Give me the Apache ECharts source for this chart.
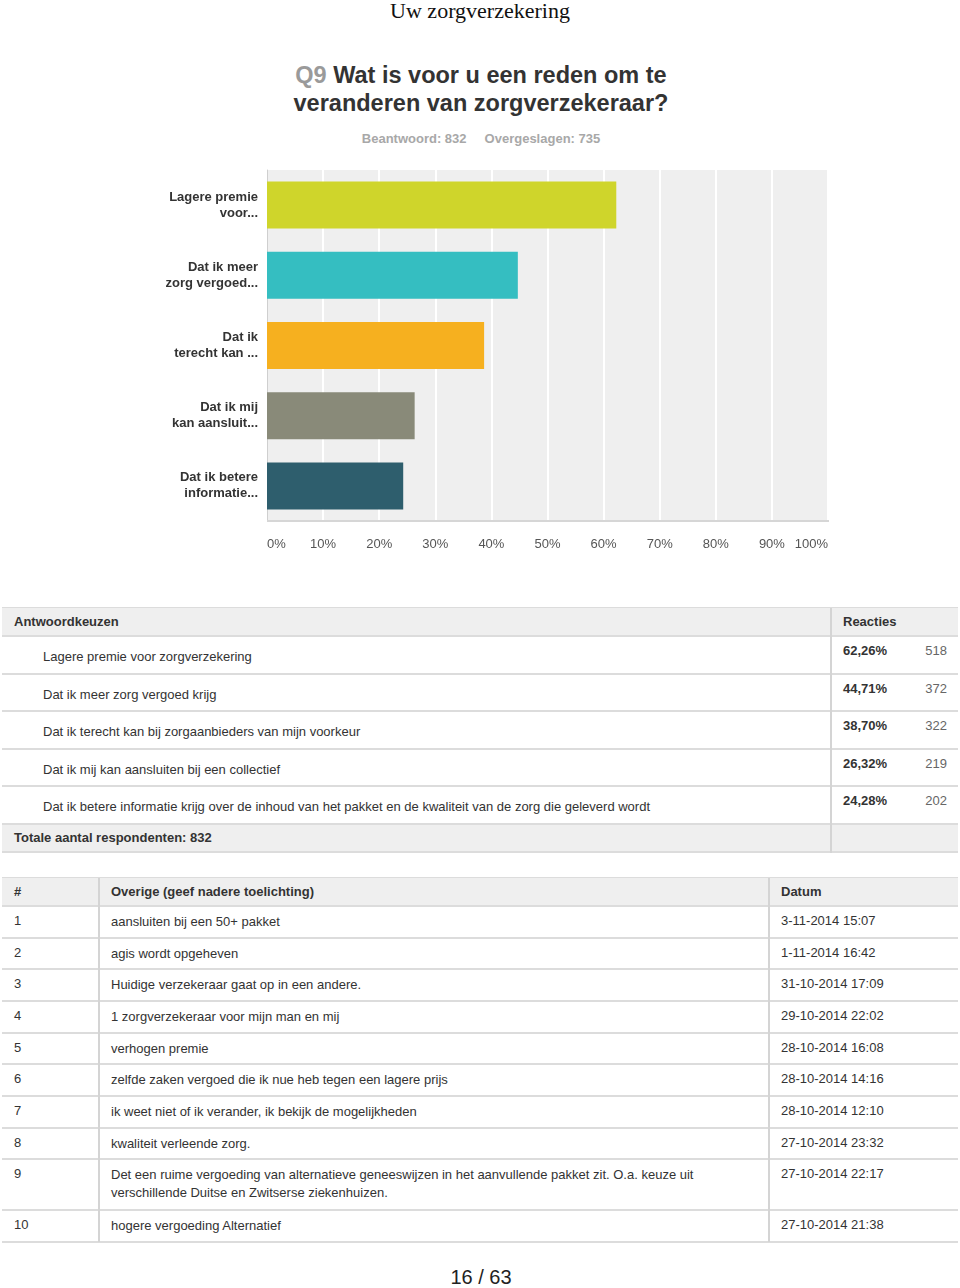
<!DOCTYPE html>
<html><head><meta charset="utf-8">
<script src="https://cdn.jsdelivr.net/npm/echarts@6/dist/echarts.min.js"></script>
<style>
html,body{margin:0;padding:0;background:#fff;}
body{width:960px;height:1288px;position:relative;overflow:hidden;font-family:"Liberation Sans",Arial,Helvetica,sans-serif;color:#333;}
.abs{position:absolute;}
.t{position:absolute;white-space:nowrap;font-size:13px;line-height:16px;}
</style></head>
<body>
<div class="abs" style="left:0;width:960px;top:-2px;text-align:center;font-family:'Liberation Serif','Times New Roman',serif;font-size:22px;line-height:26px;color:#111;">Uw zorgverzekering</div>
<div class="abs" style="left:0;width:962px;top:61px;text-align:center;font-size:23.5px;line-height:28px;font-weight:bold;color:#333;"><span style="color:#9a9a9a">Q9</span> Wat is voor u een reden om te<br>veranderen van zorgverzekeraar?</div>
<div class="abs" style="left:0;width:962px;top:131px;text-align:center;font-size:13px;line-height:16px;font-weight:bold;color:#a8a8a8;">Beantwoord: 832&nbsp;&nbsp;&nbsp;&nbsp;&nbsp;Overgeslagen: 735</div>
<div id="chart" class="abs" style="left:0;top:160px;width:960px;height:410px;"></div>
<div id="tables"></div>
<div class="abs" style="left:0;width:962px;top:1265px;text-align:center;font-size:20px;line-height:24px;color:#222;font-family:'Liberation Sans Narrow','Liberation Sans',Arial,sans-serif;">16 / 63</div>
<script>
// ---- data ----
var categories = ["Lagere premie\nvoor...", "Dat ik meer\nzorg vergoed...", "Dat ik\nterecht kan ...", "Dat ik mij\nkan aansluit...", "Dat ik betere\ninformatie..."];
var percentages = [62.26, 44.71, 38.70, 26.32, 24.28];
var barColors = ["#cfd52b", "#35bec1", "#f6b01f", "#898a79", "#2e5e6d"];
var tickLabels = ["0%","10%","20%","30%","40%","50%","60%","70%","80%","90%","100%"];
var answerChoices = ["Lagere premie voor zorgverzekering", "Dat ik meer zorg vergoed krijg", "Dat ik terecht kan bij zorgaanbieders van mijn voorkeur", "Dat ik mij kan aansluiten bij een collectief", "Dat ik betere informatie krijg over de inhoud van het pakket en de kwaliteit van de zorg die geleverd wordt"];
var percentText = ["62,26%", "44,71%", "38,70%", "26,32%", "24,28%"];
var counts = [518, 372, 322, 219, 202];
var totalRespondents = 832;
var otherNums = [1,2,3,4,5,6,7,8,9,10];
var otherTexts = ["aansluiten bij een 50+ pakket", "agis wordt opgeheven", "Huidige verzekeraar gaat op in een andere.", "1 zorgverzekeraar voor mijn man en mij", "verhogen premie", "zelfde zaken vergoed die ik nue heb tegen een lagere prijs", "ik weet niet of ik verander, ik bekijk de mogelijkheden", "kwaliteit verleende zorg.", "Det een ruime vergoeding van alternatieve geneeswijzen in het aanvullende pakket zit. O.a. keuze uit\nverschillende Duitse en Zwitserse ziekenhuizen.", "hogere vergoeding Alternatief"];
var otherDates = ["3-11-2014 15:07", "1-11-2014 16:42", "31-10-2014 17:09", "29-10-2014 22:02", "28-10-2014 16:08", "28-10-2014 14:16", "28-10-2014 12:10", "27-10-2014 23:32", "27-10-2014 22:17", "27-10-2014 21:38"];

// ---- chart ----
var chart = echarts.init(document.getElementById('chart'), null, {renderer:'canvas'});
chart.setOption({
  animation:false,
  grid:{left:267, top:10, width:561, height:351, show:true, backgroundColor:'#efefef', borderWidth:0, containLabel:false},
  xAxis:{type:'value', min:0, max:100, interval:10,
    axisLine:{show:false}, axisTick:{show:false},
    splitLine:{show:true, lineStyle:{color:'#ffffff', width:2}},
    axisLabel:{margin:17, color:'#555', fontSize:13, fontFamily:'Liberation Sans, Arial, sans-serif',
      alignMinLabel:'left', alignMaxLabel:'right',
      formatter:function(v){return tickLabels[Math.round(v/10)];}}},
  yAxis:{type:'category', data:categories, inverse:true,
    axisLine:{show:true, lineStyle:{color:'#cfcfcf', width:1}}, axisTick:{show:false},
    axisLabel:{margin:9, color:'#333', fontSize:13, fontWeight:'bold', lineHeight:16, padding:[3,0,0,0], align:'right', fontFamily:'Liberation Sans, Arial, sans-serif'}},
  series:[{type:'bar', barWidth:47, data:percentages.map(function(v,i){return {value:v, itemStyle:{color:barColors[i]}};})}],
  graphic:[{type:'rect', shape:{x:267, y:360, width:562, height:2}, style:{fill:'#d6d6d6'}, z:10}]
});

// ---- tables ----
var html = [];
function box(x,y,w,h,style){html.push('<div class="abs" style="left:'+x+'px;top:'+y+'px;width:'+w+'px;height:'+h+'px;'+(style||'')+'"></div>');}
function txt(x,y,s,style){html.push('<div class="t" style="left:'+x+'px;top:'+(y-8)+'px;'+(style||'')+'">'+s+'</div>');}
function rtxt(xr,y,s,style){html.push('<div class="t" style="left:'+(xr-100)+'px;width:100px;text-align:right;top:'+(y-8)+'px;'+(style||'')+'">'+s+'</div>');}
var L=2, R=958, line='#dcdcdc';
// Table 1
box(L,608,R-L,28,'background:#efefef;');
box(L,607,R-L,1,'background:'+line);
box(L,635,R-L,2,'background:'+line);
txt(14,622,'Antwoordkeuzen','font-weight:bold;');
txt(843,622,'Reacties','font-weight:bold;');
var rowLines=[636,674,711,749,786,824];
for(var i=0;i<answerChoices.length;i++){
  var rt=rowLines[i], rb=rowLines[i+1];
  box(L,rb-1,R-L,2,'background:'+line);
  txt(43,rt+21,answerChoices[i],'color:#333;');
  txt(843,rt+15,percentText[i],'font-weight:bold;color:#333;');
  rtxt(947,rt+15,String(counts[i]),'color:#666;');
}
box(L,825,R-L,27,'background:#efefef;');
box(L,851,R-L,2,'background:'+line);
txt(14,838,'Totale aantal respondenten: '+totalRespondents,'font-weight:bold;');
box(830,608,2,245,'background:#d4d4d4;');
// Table 2
box(L,878,R-L,28,'background:#efefef;');
box(L,877,R-L,1,'background:'+line);
box(L,905,R-L,2,'background:'+line);
txt(14,892,'#','font-weight:bold;');
txt(111,892,'Overige (geef nadere toelichting)','font-weight:bold;');
txt(781,892,'Datum','font-weight:bold;');
var rl=[906,938,969,1001,1033,1064,1096,1128,1159,1210,1242];
for(var j=0;j<otherTexts.length;j++){
  var ot=rl[j], ob=rl[j+1];
  box(L,ob-1,R-L,2,'background:'+line);
  txt(14,ot+15,String(otherNums[j]),'color:#333;');
  html.push('<div class="t" style="left:111px;top:'+(ot+7)+'px;line-height:18px;">'+otherTexts[j].replace('\n','<br>')+'</div>');
  txt(781,ot+15,otherDates[j],'color:#333;');
}
box(98,878,2,364,'background:#d4d4d4;');
box(768,878,2,364,'background:#d4d4d4;');
document.getElementById('tables').innerHTML=html.join('');
</script>
</body></html>
